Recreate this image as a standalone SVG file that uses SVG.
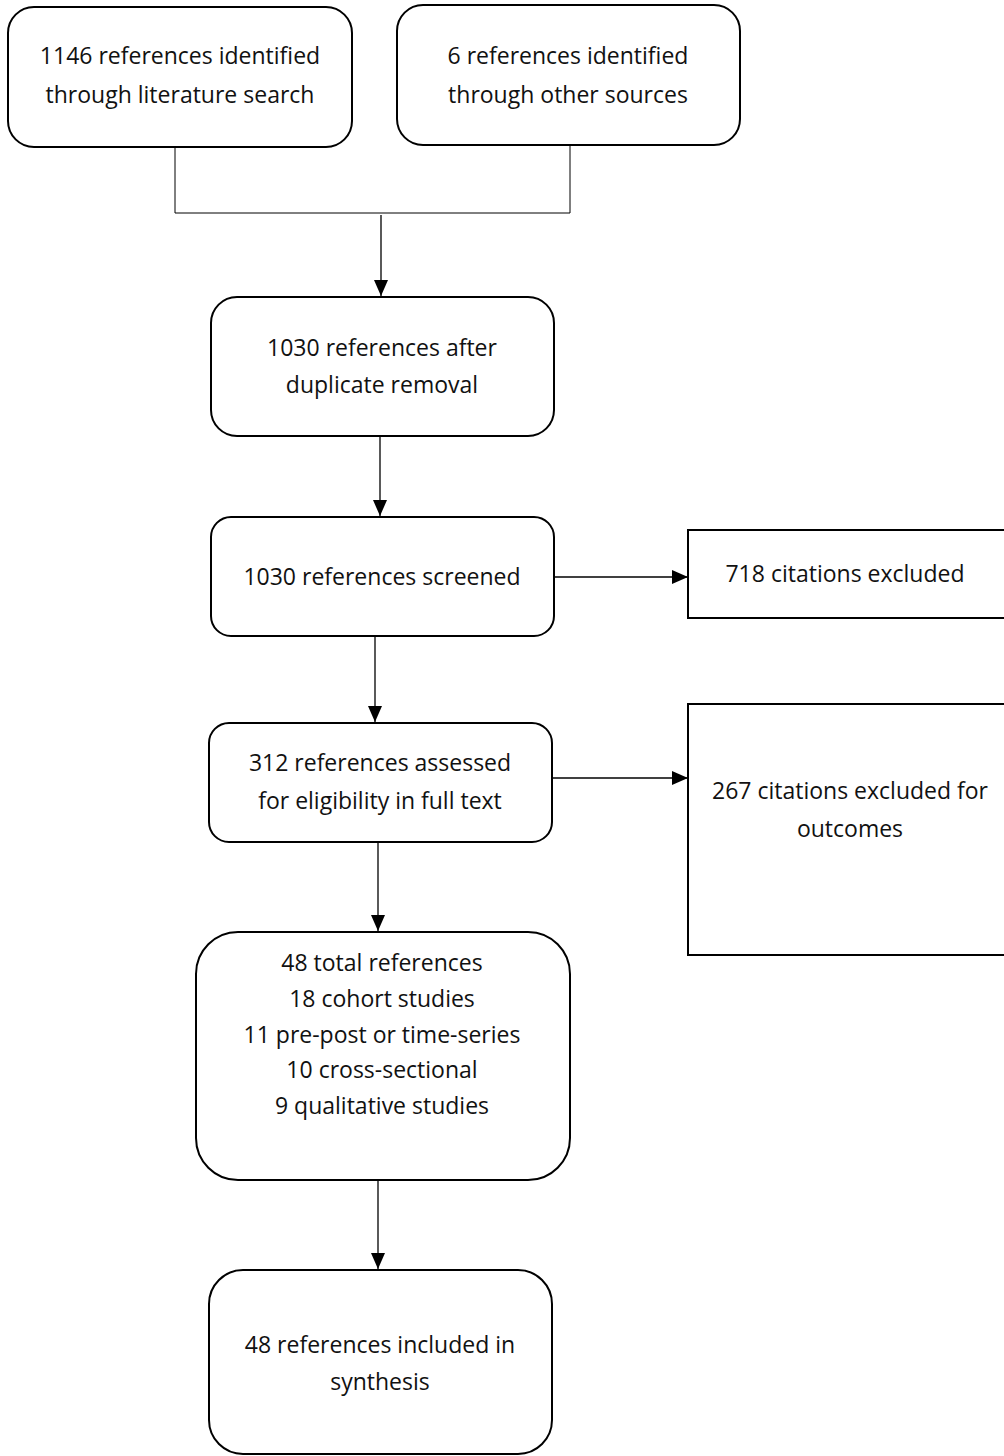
<svg xmlns="http://www.w3.org/2000/svg" width="1004" height="1456" viewBox="0 0 1004 1456">
<style>
.box{fill:#fff;stroke:#000;stroke-width:2}
.t{font-family:"Open Sans","Liberation Sans",sans-serif;font-size:23px;fill:#111;text-anchor:middle}
.c{fill:none;stroke:#000;stroke-width:1.3}
.thin{fill:none;stroke:#000;stroke-width:1}
</style>
<defs>
<marker id="ah2" markerWidth="16" markerHeight="14" refX="16" refY="7" orient="auto" markerUnits="userSpaceOnUse">
<path d="M0,0 L16,7 L0,14 Z" fill="#000"/>
</marker>
</defs>
<g id="connectors">
<path class="thin" d="M175,147 V213 H570 V145"/>
<path class="c" d="M381,215 V296" marker-end="url(#ah2)"/>
<path class="c" d="M380,436 V516" marker-end="url(#ah2)"/>
<path class="c" d="M554,577 H688" marker-end="url(#ah2)"/>
<path class="c" d="M375,636 V722" marker-end="url(#ah2)"/>
<path class="c" d="M552,778 H688" marker-end="url(#ah2)"/>
<path class="c" d="M378,842 V931" marker-end="url(#ah2)"/>
<path class="c" d="M378,1180 V1269" marker-end="url(#ah2)"/>
</g>
<g id="n1">
<rect class="box" x="8" y="7" width="344" height="140" rx="26"/>
<text class="t" x="180" y="64">1146 references identified</text>
<text class="t" x="180" y="103">through literature search</text>
</g>
<g id="n2">
<rect class="box" x="397" y="5" width="343" height="140" rx="26"/>
<text class="t" x="568" y="64">6 references identified</text>
<text class="t" x="568" y="103">through other sources</text>
</g>
<g id="n3">
<rect class="box" x="211" y="297" width="343" height="139" rx="26"/>
<text class="t" x="382" y="356">1030 references after</text>
<text class="t" x="382" y="393">duplicate removal</text>
</g>
<g id="n4">
<rect class="box" x="211" y="517" width="343" height="119" rx="20"/>
<text class="t" x="382" y="585">1030 references screened</text>
</g>
<g id="n5">
<rect class="box" x="688" y="530" width="320" height="88"/>
<text class="t" x="845" y="582">718 citations excluded</text>
</g>
<g id="n6">
<rect class="box" x="209" y="723" width="343" height="119" rx="20"/>
<text class="t" x="380" y="771">312 references assessed</text>
<text class="t" x="380" y="809">for eligibility in full text</text>
</g>
<g id="n7">
<rect class="box" x="688" y="704" width="320" height="251"/>
<text class="t" x="850" y="799">267 citations excluded for</text>
<text class="t" x="850" y="837">outcomes</text>
</g>
<g id="n8">
<rect class="box" x="196" y="932" width="374" height="248" rx="42"/>
<text class="t" x="382" y="971">48 total references</text>
<text class="t" x="382" y="1007">18 cohort studies</text>
<text class="t" x="382" y="1043">11 pre-post or time-series</text>
<text class="t" x="382" y="1078">10 cross-sectional</text>
<text class="t" x="382" y="1114">9 qualitative studies</text>
</g>
<g id="n9">
<rect class="box" x="209" y="1270" width="343" height="184" rx="34"/>
<text class="t" x="380" y="1353">48 references included in</text>
<text class="t" x="380" y="1390">synthesis</text>
</g>
</svg>
